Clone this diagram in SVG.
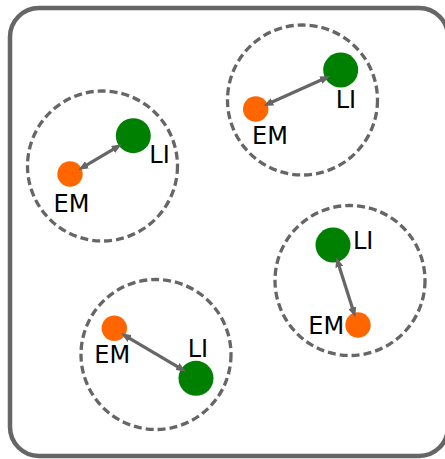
<svg xmlns="http://www.w3.org/2000/svg" width="445" height="459" viewBox="0 0 445 459">
<defs>
<marker id="ah" viewBox="0 0 10 8" refX="4" refY="4" markerWidth="10" markerHeight="8" markerUnits="userSpaceOnUse" orient="auto-start-reverse">
<path d="M0,0 L10,4 L0,8 z" fill="#666"/>
</marker>
<style>
.frame{fill:#fff;stroke:#666;stroke-width:4.5}
.zone{fill:none;stroke:#666;stroke-width:3.3;stroke-dasharray:8,4}
.li{fill:#008000}
.em{fill:#ff6600}
.lbl{font-family:"DejaVu Sans",sans-serif;font-size:24px;fill:#000}
.link{stroke:#666;stroke-width:3.2;fill:none;marker-start:url(#ah);marker-end:url(#ah)}
</style>
</defs>
<rect width="445" height="459" fill="#fff"/>
<rect class="frame" x="10" y="8" width="438" height="448" rx="29"/>
<g id="pair1">
<circle class="zone" cx="102.5" cy="166" r="75"/>
<circle class="li" cx="133.3" cy="135.7" r="17.5"/>
<circle class="em" cx="70" cy="174" r="12.7"/>
<text class="lbl" x="149.3" y="163.3">LI</text>
<text class="lbl" x="53.6" y="212">EM</text>
</g>
<g id="pair2">
<circle class="zone" cx="302.5" cy="100" r="75"/>
<circle class="li" cx="340.7" cy="70" r="17.5"/>
<circle class="em" cx="255.7" cy="109" r="12.7"/>
<text class="lbl" x="335.7" y="108.3">LI</text>
<text class="lbl" x="252" y="144">EM</text>
</g>
<g id="pair3">
<circle class="zone" cx="350" cy="280.5" r="75"/>
<circle class="li" cx="333" cy="245" r="17.5"/>
<circle class="em" cx="358" cy="325" r="12.7"/>
<text class="lbl" x="353" y="249.3">LI</text>
<text class="lbl" x="308.3" y="334">EM</text>
</g>
<g id="pair4">
<circle class="zone" cx="156" cy="354.5" r="75"/>
<circle class="em" cx="114.3" cy="328.3" r="12.7"/>
<circle class="li" cx="196" cy="378.3" r="17.5"/>
<text class="lbl" x="94.3" y="363.3">EM</text>
<text class="lbl" x="187.7" y="356.7">LI</text>
</g>
<g id="connectors">
<line class="link" x1="83.5" y1="166.9" x2="116.5" y2="147.4"/>
<line class="link" x1="268.8" y1="103.5" x2="324.5" y2="78.5"/>
<line class="link" x1="338.1" y1="263" x2="353.5" y2="311.6"/>
<line class="link" x1="126.2" y1="336.4" x2="180.8" y2="368.6"/>
</g>
</svg>
